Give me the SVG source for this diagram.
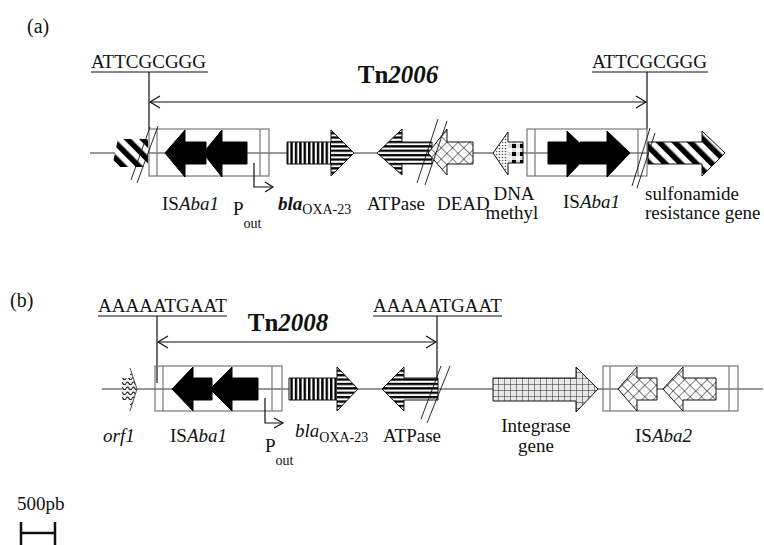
<svg xmlns="http://www.w3.org/2000/svg" width="764" height="545" viewBox="0 0 764 545">
<style>
text{font-family:"Liberation Serif","Times New Roman",serif;fill:#111}
.lab{font-size:19px}
.sub{font-size:14px}
.seq{font-size:19px}
.bb{stroke:#333;stroke-width:1;fill:none}
.box{stroke:#777;stroke-width:1.2;fill:none}
.ln{stroke:#111;stroke-width:1.2;fill:none}
.ol{stroke:#111;stroke-width:1;fill:none}
.blk{fill:#000;stroke:#000}
.sl{stroke:#111;stroke-width:0.9}
</style>
<defs>
<pattern id="diag" width="11" height="11" patternUnits="userSpaceOnUse" patternTransform="rotate(-45)"><rect width="11" height="11" fill="#fff"/><rect width="5.5" height="11" fill="#000"/></pattern>
<pattern id="vstr" width="4.4" height="10" patternUnits="userSpaceOnUse"><rect width="4.4" height="10" fill="#fff"/><rect width="2.4" height="10" fill="#000"/></pattern>
<pattern id="hstr" width="10" height="4.4" patternUnits="userSpaceOnUse"><rect width="10" height="4.4" fill="#fff"/><rect width="10" height="2.3" fill="#000"/></pattern>
<pattern id="xh" width="8" height="8" patternUnits="userSpaceOnUse" patternTransform="rotate(45)"><rect width="8" height="8" fill="#fff"/><path d="M0,0H8M0,0V8" stroke="#000" stroke-width="1"/><circle cx="4" cy="4" r="0.6" fill="#999"/></pattern>
<pattern id="grid" width="6" height="6" patternUnits="userSpaceOnUse"><rect width="6" height="6" fill="#e8e8e8"/><path d="M0,0H6M0,0V6" stroke="#111" stroke-width="0.9"/></pattern>
<pattern id="chk" width="8" height="8" patternUnits="userSpaceOnUse"><rect width="8" height="8" fill="#ddd"/><rect width="4" height="4" fill="#000"/><rect x="4" y="4" width="4" height="4" fill="#fff"/></pattern>
<pattern id="dots" width="3" height="3" patternUnits="userSpaceOnUse"><rect width="3" height="3" fill="#fff"/><circle cx="1.5" cy="1.5" r="0.8" fill="#555"/></pattern>
<pattern id="wave" width="6" height="5" patternUnits="userSpaceOnUse"><rect width="6" height="5" fill="#eee"/><path d="M0,3.5 Q1.5,0.8 3,3.5 T6,3.5" stroke="#222" fill="none" stroke-width="1.2"/></pattern>
</defs>

<!-- Panel (a) -->
<g id="label-a"><text x="27" y="33" font-size="20">(a)</text></g>
<g id="connectors-a">
<line class="bb" x1="90" y1="153" x2="720" y2="153"/>
<line class="ln" x1="91" y1="72" x2="208" y2="72"/>
<line class="ln" x1="592" y1="72" x2="708" y2="72"/>
<line class="ln" x1="149" y1="72" x2="149" y2="129"/>
<line class="ln" x1="647" y1="72" x2="647" y2="129"/>
<line class="ln" x1="150" y1="102" x2="646" y2="102"/>
<polyline class="ln" points="160,96 150,102 160,108"/>
<polyline class="ln" points="636,96 646,102 636,108"/>
</g>
<g id="tn2006"><text x="398" y="83" font-size="25" font-weight="bold" text-anchor="middle">Tn<tspan font-style="italic">2006</tspan></text></g>
<g id="seq-a1"><text class="seq" x="91" y="68">ATTCGCGGG</text></g>
<g id="seq-a2"><text class="seq" x="592" y="68">ATTCGCGGG</text></g>

<g id="a-left-gene">
<polygon points="118,139 148,139 148,167 112,167" fill="url(#diag)"/>
</g>
<g id="a-isaba1-left">
<rect class="box" x="149" y="129" width="120" height="47"/>
<line class="box" x1="157" y1="129" x2="157" y2="176"/>
<line class="box" x1="260" y1="129" x2="260" y2="176"/>
<path class="blk" d="M165,153 L185,130 V142 H206 V164 H185 V177 Z"/>
<path class="blk" d="M203,153 L222,130 V142 H247 V164 H222 V177 Z"/>
<line class="sl" x1="131" y1="180" x2="150" y2="127"/>
<line class="sl" x1="137" y1="183" x2="158" y2="126"/>
<text class="lab" x="162" y="210">IS<tspan font-style="italic">Aba1</tspan></text>
</g>
<g id="a-pout">
<polyline class="ln" points="254,163 254,187 272,187"/>
<polyline class="ln" points="265,182 273,187 265,192"/>
<text class="lab" x="233" y="215">P<tspan class="sub" dy="13">out</tspan></text>
</g>
<g id="a-bla">
<rect x="287" y="142" width="44" height="22" fill="url(#vstr)"/>
<path d="M331,130 L354,153 L331,176 Z" fill="url(#hstr)"/>
<path class="ol" d="M287,142 H331 V130 L354,153 L331,176 V164 H287 Z"/>
<text class="lab" x="278" y="210" font-weight="bold" font-style="italic">bla<tspan class="sub" font-weight="normal" font-style="normal" dy="4">OXA-23</tspan></text>
</g>
<g id="a-atpase">
<path d="M377,153 L402,129 V142 H432 V164 H402 V175 Z" fill="url(#hstr)"/>
<path class="ol" d="M377,153 L402,129 V142 H432 V164 H402 V175 Z"/>
<text class="lab" x="367" y="210">ATPase</text>
</g>
<g id="a-dead">
<path d="M428,153 L447,129 V142 H473 V164 H447 V175 Z" fill="url(#xh)"/>
<path class="ol" d="M428,153 L447,129 V142 H473 V164 H447 V175 Z"/>
<line class="sl" x1="417" y1="183" x2="438" y2="119"/>
<line class="sl" x1="425" y1="185" x2="447" y2="121"/>
<text class="lab" x="437" y="210">DEAD</text>
</g>
<g id="a-dnamethyl">
<path d="M493,153 L508,132 V175 Z" fill="url(#dots)"/>
<rect x="508" y="142" width="15" height="21" fill="url(#chk)"/>
<path class="ol" d="M493,153 L508,132 V142 H523 V163 H508 V175 Z"/>
<text class="lab" x="514" y="200" text-anchor="middle">DNA</text>
<text class="lab" x="512" y="219" text-anchor="middle">methyl</text>
</g>
<g id="a-isaba1-right">
<rect class="box" x="527" y="129" width="120" height="47"/>
<line class="box" x1="535" y1="129" x2="535" y2="176"/>
<line class="box" x1="638" y1="129" x2="638" y2="176"/>
<path class="blk" d="M548,142 H567 V131 L590,153 L567,177 V164 H548 Z"/>
<path class="blk" d="M580,142 H607 V131 L630,153 L607,177 V164 H580 Z"/>
<text class="lab" x="563" y="208">IS<tspan font-style="italic">Aba1</tspan></text>
</g>
<g id="a-sulfonamide">
<path d="M648,142 H702 V131 L725,153 L702,176 V164 H648 Z" fill="url(#diag)"/>
<path class="ol" d="M648,142 H702 V131 L725,153 L702,176 V164 H648 Z"/>
<line class="sl" x1="632" y1="186" x2="650" y2="128"/>
<line class="sl" x1="637" y1="188" x2="655" y2="133"/>
<text class="lab" x="645" y="200">sulfonamide</text>
<text class="lab" x="645" y="219">resistance gene</text>
</g>

<!-- Panel (b) -->
<g id="label-b"><text x="10" y="307" font-size="20">(b)</text></g>
<g id="connectors-b">
<line class="bb" x1="102" y1="389" x2="763" y2="389"/>
<line class="ln" x1="98" y1="316" x2="227" y2="316"/>
<line class="ln" x1="373" y1="316" x2="502" y2="316"/>
<line class="ln" x1="157" y1="316" x2="157" y2="383"/>
<line class="ln" x1="437" y1="316" x2="437" y2="400"/>
<line class="ln" x1="158" y1="342" x2="436" y2="342"/>
<polyline class="ln" points="168,336 158,342 168,348"/>
<polyline class="ln" points="426,336 436,342 426,348"/>
</g>
<g id="tn2008"><text x="288" y="331" font-size="25" font-weight="bold" text-anchor="middle">Tn<tspan font-style="italic">2008</tspan></text></g>
<g id="seq-b1"><text class="seq" x="98" y="312">AAAAATGAAT</text></g>
<g id="seq-b2"><text class="seq" x="373" y="312">AAAAATGAAT</text></g>

<g id="b-orf1">
<path d="M122,378 H130 V368 L137,389 L130,411 V400 H122 Z" fill="url(#wave)"/>
<path d="M130,368 L137,389 L130,411" stroke="#444" stroke-width="0.9" fill="none"/>
<text class="lab" x="103" y="442" font-style="italic">orf1</text>
</g>
<g id="b-isaba1">
<rect class="box" x="155" y="366" width="127" height="45"/>
<line class="box" x1="163" y1="366" x2="163" y2="411"/>
<line class="box" x1="272" y1="366" x2="272" y2="411"/>
<path class="blk" d="M172,389 L193,367 V378 H212 V400 H193 V411 Z"/>
<path class="blk" d="M210,389 L232,367 V378 H258 V400 H232 V411 Z"/>
<text class="lab" x="170" y="442">IS<tspan font-style="italic">Aba1</tspan></text>
</g>
<g id="b-pout">
<polyline class="ln" points="265,398 265,423 282,423"/>
<polyline class="ln" points="274,418 283,423 274,428"/>
<text class="lab" x="265" y="452">P<tspan class="sub" dy="13">out</tspan></text>
</g>
<g id="b-bla">
<rect x="289" y="378" width="48" height="22" fill="url(#vstr)"/>
<path d="M337,367 L358,389 L337,411 Z" fill="url(#hstr)"/>
<path class="ol" d="M289,378 H337 V367 L358,389 L337,411 V400 H289 Z"/>
<text class="lab" x="295" y="437" font-style="italic">bla<tspan class="sub" font-style="normal" dy="5">OXA-23</tspan></text>
</g>
<g id="b-atpase">
<path d="M382,389 L404,367 V378 H438 V400 H404 V411 Z" fill="url(#hstr)"/>
<path class="ol" d="M382,389 L404,367 V378 H438 V400 H404 V411 Z"/>
<line class="sl" x1="421" y1="419" x2="441" y2="366"/>
<line class="sl" x1="427" y1="423" x2="450" y2="366"/>
<text class="lab" x="383" y="442">ATPase</text>
</g>
<g id="b-integrase">
<path d="M493,378 H576 V367 L598,389 L576,412 V401 H493 Z" fill="url(#grid)"/>
<path class="ol" d="M493,378 H576 V367 L598,389 L576,412 V401 H493 Z"/>
<text class="lab" x="536" y="432" text-anchor="middle">Integrase</text>
<text class="lab" x="536" y="452" text-anchor="middle">gene</text>
</g>
<g id="b-isaba2">
<rect class="box" x="603" y="366" width="135" height="45"/>
<line class="box" x1="610" y1="366" x2="610" y2="411"/>
<line class="box" x1="729" y1="366" x2="729" y2="411"/>
<path d="M618,389 L637,367 V378 H657 V400 H637 V411 Z" fill="url(#xh)"/>
<path class="ol" d="M618,389 L637,367 V378 H657 V400 H637 V411 Z"/>
<path d="M663,389 L683,367 V378 H716 V400 H683 V411 Z" fill="url(#xh)"/>
<path class="ol" d="M663,389 L683,367 V378 H716 V400 H683 V411 Z"/>
<text class="lab" x="635" y="442">IS<tspan font-style="italic">Aba2</tspan></text>
</g>

<g id="scale">
<text class="lab" x="17" y="510">500pb</text>
<path d="M21,533 H55 M21,522 V545 M55,522 V545" stroke="#111" stroke-width="2.5" fill="none"/>
</g>
</svg>
